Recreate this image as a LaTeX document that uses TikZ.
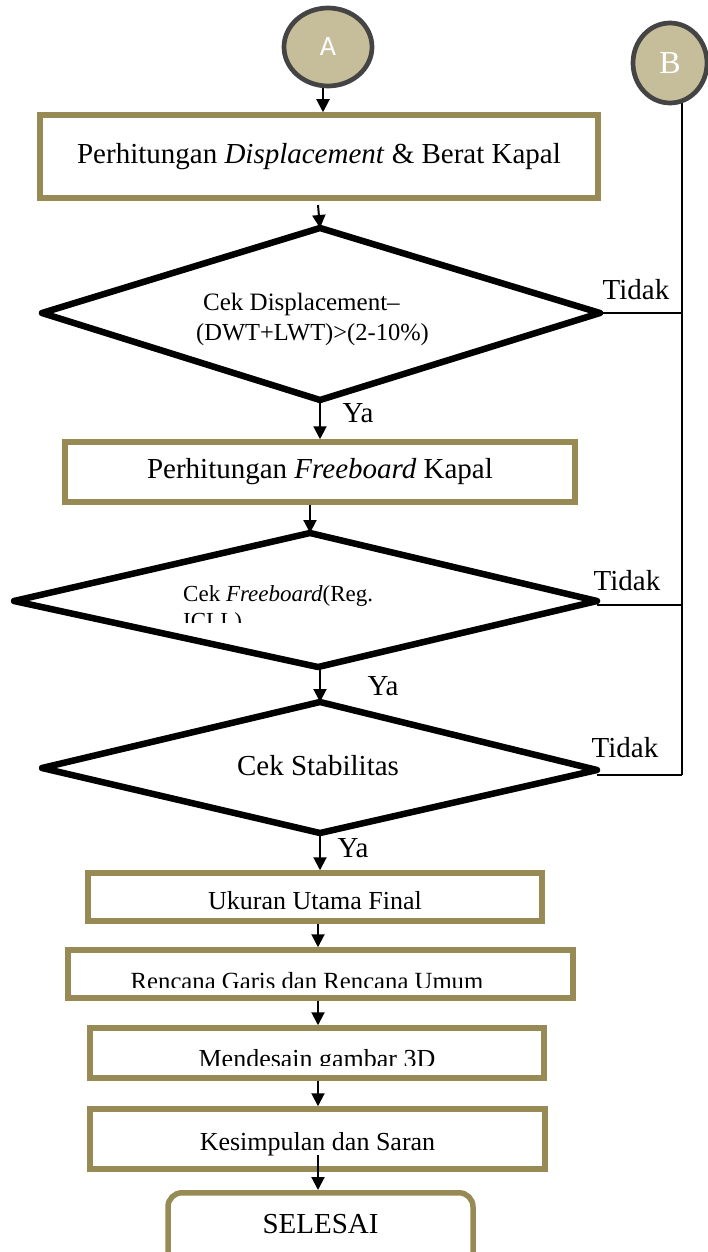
\documentclass[tikz,border=0pt]{standalone}
\usepackage{fontspec}
\setmainfont{Liberation Serif}
\newfontfamily\carl{Carlito}
\usetikzlibrary{arrows.meta,shapes.geometric}
\definecolor{boxol}{HTML}{978A55}
\definecolor{tanfill}{HTML}{C6BE9A}
\definecolor{ringgray}{HTML}{444444}
\begin{document}
\begin{tikzpicture}[x=1pt,y=-1pt,
  procbox/.style={draw=boxol, line width=5.5pt, fill=white, inner sep=0pt},
  dia/.style={draw=black, line width=6.5pt, line join=round},
  conn/.style={draw=black, line width=2pt, -{Triangle[width=13pt,length=13pt]}},
  thin/.style={draw=black, line width=1.6pt},
  ring/.style={ellipse, draw=ringgray, line width=4.7pt, fill=tanfill, inner sep=0pt},
  lbl/.style={font=\fontsize{29}{31}\selectfont, inner sep=0pt}
]
\useasboundingbox (0,0) rectangle (708,1252);

% right return line (drawn first, under circle B)
\coordinate (vr0) at (682,95);
\coordinate (vr1) at (682,313);
\coordinate (vr2) at (682,605);
\coordinate (vr3) at (682,775);
\draw[thin] (vr0) -- (vr3);

% connectors A / B
\node[ring, minimum width=88pt, minimum height=78pt, font=\carl\fontsize{28}{30}\selectfont, text=white] (A) at (328,47) {A};
\node[ring, minimum width=74pt, minimum height=80pt, font=\fontsize{32}{34}\selectfont, text=white] (B) at (670,63) {B};

% box 1
\node[procbox, minimum width=558pt, minimum height=83pt, font=\fontsize{29}{31}\selectfont] (b1) at (319,156.5) {Perhitungan \textit{Displacement} \& Berat Kapal};
\draw[conn] (A.south -| 323,0) -- (b1.north -| 323,0);

% diamond 1
\coordinate (d1t) at (320,228);
\coordinate (d1r) at (600,313);
\coordinate (d1b) at (320,400);
\coordinate (d1l) at (42,313);
\draw[dia] (d1t) -- (d1r) -- (d1b) -- (d1l) -- cycle;
\node[anchor=base west, font=\fontsize{25}{27}\selectfont, inner sep=0pt] (d1txta) at (203,310) {Cek Displacement–};
\node[anchor=base west, font=\fontsize{24.5}{27}\selectfont, inner sep=0pt] (d1txtb) at (196,340) {(DWT+LWT)>(2-10\%)};
\coordinate (b1s) at (318,205);
\draw[conn] (b1s) -- (d1t);

\draw[thin] (d1r) -- (vr1);
\node[lbl] (t1) at (636,290) {Tidak};

% box 2
\node[procbox, minimum width=510pt, minimum height=60pt, font=\fontsize{29}{31}\selectfont] (b2) at (320,472) {Perhitungan \textit{Freeboard} Kapal};
\draw[conn] (d1b) -- (b2.north -| d1b);
\node[lbl] (y1) at (358,413) {Ya};

% diamond 2
\coordinate (d2t) at (310,533);
\coordinate (d2r) at (597,601);
\coordinate (d2b) at (318,667);
\coordinate (d2l) at (14,601);
\draw[dia] (d2t) -- (d2r) -- (d2b) -- (d2l) -- cycle;
\draw[conn] (b2.south -| d2t) -- (d2t);
\node[anchor=base west, font=\fontsize{23}{25}\selectfont, inner sep=0pt] (d2txt) at (183,601) {Cek \textit{Freeboard}(Reg.};
\begin{scope}
\clip (170,605) rectangle (300,622);
\node[anchor=base west, font=\fontsize{23}{25}\selectfont, inner sep=0pt] (d2txtb) at (183,628) {ICLL)};
\end{scope}
\coordinate (d2rr) at (597,605);
\draw[thin] (d2rr) -- (vr2);
\node[lbl] (t2) at (627,581) {Tidak};

% diamond 3
\coordinate (d3t) at (320,702);
\coordinate (d3r) at (597,770);
\coordinate (d3b) at (320,833);
\coordinate (d3l) at (42,768);
\draw[dia] (d3t) -- (d3r) -- (d3b) -- (d3l) -- cycle;
\coordinate (d2bo) at (320,667);
\draw[conn] (d2bo) -- (d3t);
\node[lbl] (y2) at (383,686) {Ya};
\node[anchor=base, font=\fontsize{29}{31}\selectfont, inner sep=0pt] (d3txt) at (318,775) {Cek Stabilitas};
\coordinate (d3rr) at (597,775);
\draw[thin] (d3rr) -- (vr3);
\node[lbl] (t3) at (625,748) {Tidak};

% box Ukuran
\node[procbox, minimum width=454pt, minimum height=48pt] (b3) at (315,897) {};
\node[anchor=base, font=\fontsize{26}{28}\selectfont, inner sep=0pt] (b3txt) at (315,909) {Ukuran Utama Final};
\draw[conn] (d3b) -- (b3.north -| d3b);
\node[lbl] (y3) at (353,848) {Ya};

% box Rencana
\node[procbox, minimum width=505pt, minimum height=48pt] (b4) at (320.5,974) {};
\begin{scope}
\clip (70,950) rectangle (570,987);
\node[font=\fontsize{24.7}{27}\selectfont, inner sep=0pt, anchor=base] (b4txt) at (307,989) {Rencana Garis dan Rencana Umum};
\end{scope}
\draw[conn] (b3.south -| 318,0) -- (b4.north -| 318,0);

% box Mendesain
\node[procbox, minimum width=454pt, minimum height=50pt] (b5) at (317,1053) {};
\begin{scope}
\clip (92,1030) rectangle (542,1065);
\node[font=\fontsize{26}{28}\selectfont, inner sep=0pt, anchor=base] (b5txt) at (317,1067.5) {Mendesain gambar 3D};
\end{scope}
\draw[conn] (b4.south -| 318,0) -- (b5.north -| 318,0);

% box Kesimpulan
\node[procbox, minimum width=455pt, minimum height=60pt] (b6) at (317.5,1139) {};
\node[anchor=base, font=\fontsize{26}{28}\selectfont, inner sep=0pt] (b6txt) at (317.5,1150) {Kesimpulan dan Saran};
\draw[conn] (b5.south -| 318,0) -- (b6.north -| 318,0);

% SELESAI
\node[procbox, rounded corners=14pt, minimum width=305pt, minimum height=80pt, anchor=north] (end) at (320.5,1190) {};
\node[anchor=base, font=\fontsize{29}{31}\selectfont, inner sep=0pt] (endtxt) at (320.5,1233) {SELESAI};
\coordinate (b6in) at (318,1155);
\draw[conn] (b6in) -- (end.north -| b6in);
\end{tikzpicture}
\end{document}
